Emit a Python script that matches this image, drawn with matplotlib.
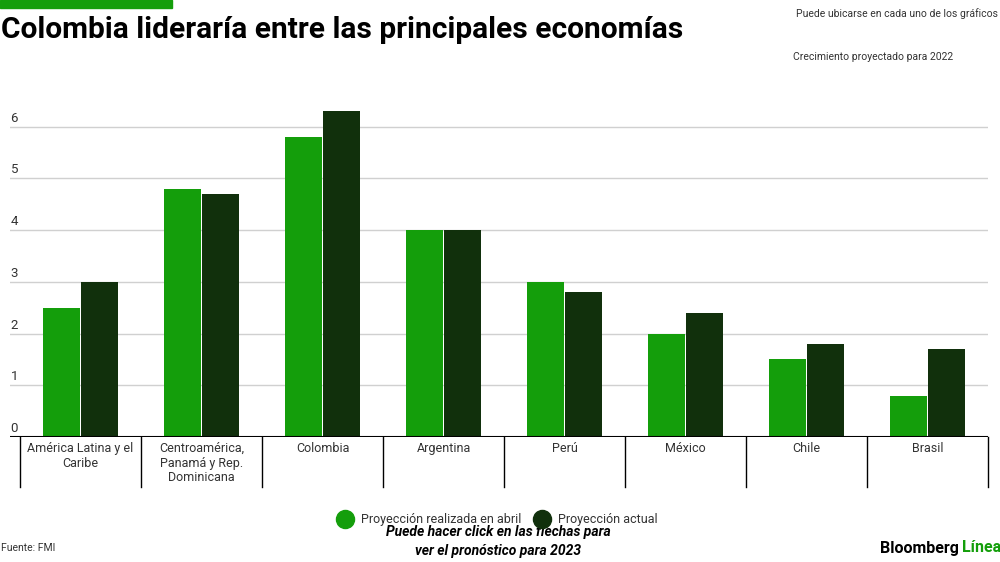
import matplotlib
matplotlib.use('Agg')
from matplotlib import pyplot as plt
from matplotlib.lines import Line2D
from matplotlib.patches import Rectangle

plt.rcParams['font.family'] = ['Roboto', 'DejaVu Sans']

categories = ['América Latina y el\nCaribe', 'Centroamérica,\nPanamá y Rep.\nDominicana',
              'Colombia', 'Argentina', 'Perú', 'México', 'Chile', 'Brasil']
abril = [2.5, 4.8, 5.8, 4.0, 3.0, 2.0, 1.5, 0.8]
actual = [3.0, 4.7, 6.3, 4.0, 2.8, 2.4, 1.8, 1.7]
yticks = [0, 1, 2, 3, 4, 5, 6]

GREEN = '#149e0b'
DARK = '#11300c'
TXT = '#333333'

fig = plt.figure(figsize=(10, 5.62), dpi=100)
ax = fig.add_axes([0.010, 0.2224, 0.978, 0.598])

n = len(categories)
x = list(range(n))
w = 0.30
ax.bar([i - 0.157 for i in x], abril, width=w, color=GREEN, zorder=3)
ax.bar([i + 0.157 for i in x], actual, width=w, color=DARK, zorder=3)

xmin = -0.5 - 10 / 121
ax.set_xlim(xmin, n - 0.5)
ax.set_ylim(0, 6.5)

for s in ax.spines.values():
    s.set_visible(False)
ax.set_xticks([])
ax.set_yticks([])

for v in yticks[1:]:
    ax.axhline(v, color='#d0d0d0', lw=1, zorder=1)
ax.axhline(0, color='black', lw=1.5, zorder=4)
for v in yticks:
    ax.text(xmin + 0.005, v + 0.04, str(v), fontsize=9.5, color=TXT, va='bottom', ha='left')

# category dividers and labels below the axis
for i in range(n + 1):
    ax.plot([i - 0.5, i - 0.5], [0, -0.97], color='black', lw=1, clip_on=False)
for i, c in enumerate(categories):
    ax.text(i, -0.1, c, ha='center', va='top', fontsize=9, color=TXT,
            linespacing=1.15, clip_on=False)

# top bar and headings
fig.patches.append(Rectangle((0, 1 - 8 / 562), 0.172, 8 / 562, transform=fig.transFigure,
                             color=GREEN, zorder=0))
fig.text(0.001, 1 - 30 / 562, 'Colombia lideraría entre las principales economías',
         fontsize=21.5, fontweight='bold', va='center', ha='left', color='black')
fig.text(0.796, 1 - 14 / 562, 'Puede ubicarse en cada uno de los gráficos',
         fontsize=7.5, va='center', ha='left', color=TXT)
fig.text(0.793, 1 - 57 / 562, 'Crecimiento proyectado para 2022',
         fontsize=7.5, va='center', ha='left', color=TXT)

# legend
handles = [Line2D([], [], marker='o', ls='', color=GREEN, markersize=13),
           Line2D([], [], marker='o', ls='', color=DARK, markersize=13)]
fig.legend(handles, ['Proyección realizada en abril', 'Proyección actual'],
           loc='center', bbox_to_anchor=(0.495, 1 - 520 / 562), ncol=2, frameon=False,
           fontsize=9, handletextpad=0.3, columnspacing=0.6, labelcolor=TXT)

fig.text(0.498, 1 - 532 / 562, 'Puede hacer click en las flechas para',
         fontsize=10, fontweight='bold', style='italic', ha='center', va='center')
fig.text(0.498, 1 - 551 / 562, 'ver el pronóstico para 2023',
         fontsize=10, fontweight='bold', style='italic', ha='center', va='center')

fig.text(0.001, 1 - 548 / 562, 'Fuente: FMI', fontsize=7.5, color=TXT, va='center', ha='left')
fig.text(0.880, 1 - 548 / 562, 'Bloomberg', fontsize=11.5, fontweight='bold',
         color='black', va='center', ha='left')
fig.text(0.962, 1 - 548 / 562, 'Línea', fontsize=11.5, fontweight='bold',
         color=GREEN, va='center', ha='left')

fig.savefig('out.png', dpi=100)
